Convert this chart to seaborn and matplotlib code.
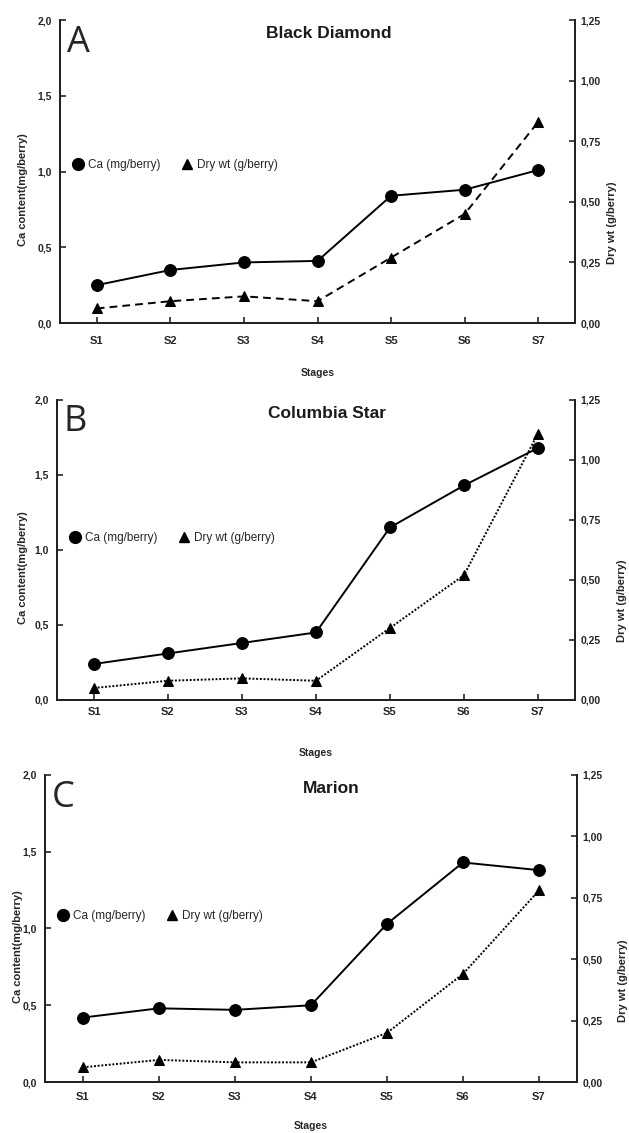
import pandas as pd
import matplotlib
matplotlib.use("Agg")
import matplotlib.pyplot as plt
from matplotlib.lines import Line2D
import seaborn as sns

# data
stages = ["S1", "S2", "S3", "S4", "S5", "S6", "S7"]
panels = ["A", "B", "C"]
cultivars = ["Black Diamond", "Columbia Star", "Marion"]

ca_black_diamond = [0.25, 0.35, 0.40, 0.41, 0.84, 0.88, 1.01]
dry_black_diamond = [0.06, 0.09, 0.11, 0.09, 0.27, 0.45, 0.83]

ca_columbia_star = [0.24, 0.31, 0.38, 0.45, 1.15, 1.43, 1.68]
dry_columbia_star = [0.05, 0.08, 0.09, 0.08, 0.30, 0.52, 1.11]

ca_marion = [0.42, 0.48, 0.47, 0.50, 1.03, 1.43, 1.38]
dry_marion = [0.06, 0.09, 0.08, 0.08, 0.20, 0.44, 0.78]

ca_ticks = [0.0, 0.5, 1.0, 1.5, 2.0]
ca_tick_labels = ["0,0", "0,5", "1,0", "1,5", "2,0"]
dry_ticks = [0.0, 0.25, 0.5, 0.75, 1.0, 1.25]
dry_tick_labels = ["0,00", "0,25", "0,50", "0,75", "1,00", "1,25"]

ca_series = [ca_black_diamond, ca_columbia_star, ca_marion]
dry_series = [dry_black_diamond, dry_columbia_star, dry_marion]

sns.set_style("ticks")
plt.rcParams['font.family'] = ['Liberation Sans', 'DejaVu Sans']

fig = plt.figure(figsize=(6.29, 11.33), dpi=100)

# axes boxes in figure fractions (left, bottom, width, height)
boxes = [
    [0.0954, 0.7149, 0.8188, 0.2674],
    [0.0906, 0.3822, 0.8235, 0.2648],
    [0.0715, 0.0450, 0.8458, 0.2710],
]
dry_styles = [(0, (4, 2.6)), (0, (1, 0.9)), (0, (1, 0.9))]
legend_y = [0.52, 0.54, 0.54]
xtick_pad = [9, 5, 7]
xlab_y = [-0.15, -0.16, -0.128]
ylab_left_x = [-0.062, -0.056, -0.041]
ylab_right_x = [1.062, 1.081, 1.077]
title_x = [0.522, 0.521, 0.538]

for i in range(3):
    df = pd.DataFrame({"pos": range(len(stages)), "stage": stages,
                       "ca": ca_series[i], "dry": dry_series[i]})
    ax = fig.add_axes(boxes[i])
    ax2 = ax.twinx()

    sns.lineplot(data=df, x="pos", y="ca", ax=ax, color="black",
                 marker="o", markersize=8.5, markeredgecolor="black",
                 linewidth=1.4, linestyle="-")
    sns.lineplot(data=df, x="pos", y="dry", ax=ax2, color="black",
                 marker="^", markersize=6.5, markeredgecolor="black",
                 linewidth=1.4, linestyle=dry_styles[i])

    ax.set_xlim(-0.5, 6.5)
    ax.set_ylim(0, 2.0)
    ax2.set_ylim(0, 1.25)

    ax.set_xticks(range(len(stages)))
    ax.set_xticklabels(stages, fontsize=8, fontweight="bold")
    ax.set_yticks(ca_ticks)
    ax.set_yticklabels(ca_tick_labels, fontsize=7.5, fontweight="bold")
    ax2.set_yticks(dry_ticks)
    ax2.set_yticklabels(dry_tick_labels, fontsize=7.5, fontweight="bold")

    ax.tick_params(axis="y", direction="in", length=4, width=1.2, pad=6)
    ax.tick_params(axis="x", direction="in", length=4, width=1.2, pad=xtick_pad[i])
    ax2.tick_params(axis="y", direction="in", length=4, width=1.2, pad=4)

    for a in (ax, ax2):
        a.spines["top"].set_visible(False)
        for s in ("left", "right", "bottom"):
            a.spines[s].set_linewidth(1.4)
            a.spines[s].set_color("#222222")

    ax.set_xlabel("Stages", fontsize=7.5, fontweight="bold")
    ax.xaxis.set_label_coords(0.5, xlab_y[i])
    ax.set_ylabel("Ca content(mg/berry)", fontsize=8, fontweight="bold")
    ax.yaxis.set_label_coords(ylab_left_x[i], 0.44)
    ax2.set_ylabel("Dry wt (g/berry)", fontsize=8, fontweight="bold")
    ax2.yaxis.set_label_coords(ylab_right_x[i], 0.33)

    ax.text(title_x[i], 0.955, cultivars[i], transform=ax.transAxes,
            ha="center", va="center", fontsize=12.5, fontweight="bold",
            color="#1a1a1a")
    ax.text(0.035, 0.925, panels[i], transform=ax.transAxes,
            ha="center", va="center", fontsize=26,
            family=["Open Sans", "DejaVu Sans"], fontweight="normal")

    handles = [
        Line2D([], [], color="black", marker="o", markersize=8.5, linestyle="none"),
        Line2D([], [], color="black", marker="^", markersize=6.5, linestyle="none"),
    ]
    ax.legend(handles, ["Ca (mg/berry)", "Dry wt (g/berry)"], loc="center left",
              bbox_to_anchor=(0.0, legend_y[i]), ncol=2, frameon=False,
              fontsize=8.5, handletextpad=0.3, columnspacing=1.6,
              handlelength=1.2)

fig.savefig("out.png", dpi=100)
